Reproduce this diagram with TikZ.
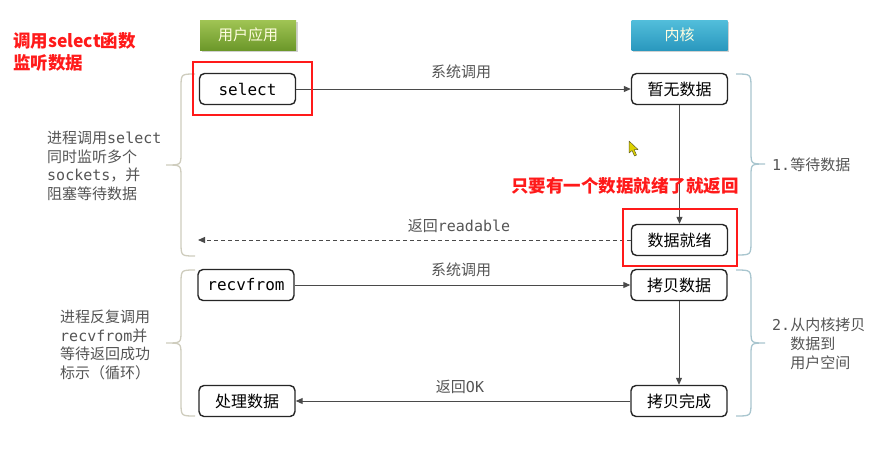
\documentclass[tikz,border=0pt]{standalone}
\usepackage{fontspec}
\setmainfont{Noto Sans CJK SC}
\newfontfamily\mono{DejaVu Sans Mono}
\usetikzlibrary{arrows.meta}

\definecolor{labelgray}{HTML}{555555}
\definecolor{linegray}{HTML}{4A4A4A}
\definecolor{appTop}{HTML}{A0C454}
\definecolor{appBot}{HTML}{6C982A}
\definecolor{kerTop}{HTML}{52BEDB}
\definecolor{kerBot}{HTML}{2A98BE}
\definecolor{braceL}{HTML}{CFCDBE}
\definecolor{braceR}{HTML}{A9C6CF}
\definecolor{markred}{HTML}{FF1A1A}

\tikzset{
  box/.style={draw=black!85, line width=1.4pt, rounded corners=5pt,
    minimum width=96pt, minimum height=31pt, inner sep=0pt, fill=white,
    font=\fontsize{16}{16}\selectfont},
  header/.style={minimum width=96pt, minimum height=30pt, inner sep=0pt,
    text=white!88!yellow, font=\fontsize{15}{15}\selectfont},
  flow/.style={draw=linegray, line width=1pt, -{Triangle[length=7pt,width=6pt]}},
  lbl/.style={text=labelgray, font=\fontsize{15}{15}\selectfont},
  note/.style={text=labelgray, font=\fontsize{15}{18.7}\selectfont, align=left, inner sep=0pt},
  redframe/.style={draw=markred, line width=2pt},
  redtext/.style={text=markred, font=\fontsize{17.5}{22}\selectfont\bfseries, align=left, inner sep=0pt},
  bracel/.style={draw=braceL, line width=1.3pt},
  bracer/.style={draw=braceR, line width=1.3pt},
}

\begin{document}
\begin{tikzpicture}[x=1pt,y=-1pt]
\useasboundingbox[fill=white] (0,0) rectangle (894,448);

% column headers
\fill[black, opacity=0.18] (202,22) rectangle (298,52);
\fill[black, opacity=0.18] (633,22) rectangle (729,52);
\node[header, top color=appTop, bottom color=appBot] (app) at (248,35) {用户应用};
\node[header, top color=kerTop, bottom color=kerBot] (kernel) at (679.5,35) {内核};

% process steps
\node[box] (sel)    at (247.5,89)  {\mono select};
\node[box] (nodata) at (679.5,89)  {暂无数据};
\node[box] (ready)  at (679.5,240) {数据就绪};
\node[box] (recv)   at (246,285)   {\mono recvfrom};
\node[box] (copy)   at (679,285)   {拷贝数据};
\node[box] (done)   at (679,401)   {拷贝完成};
\node[box] (proc)   at (247,401)   {处理数据};

% calls and returns
\draw[flow] (sel) -- (nodata);
\node[lbl] (call1) at (461,72) {系统调用};
\draw[flow] (nodata) -- (ready);
\coordinate (rdend) at (198,240);
\draw[flow, dash pattern=on 4pt off 3pt] (ready) -- (rdend);
\node[lbl] (ret1) at (459,226) {返回{\mono readable}};

\draw[flow] (recv) -- (copy);
\node[lbl] (call2) at (461,270) {系统调用};
\draw[flow] (copy) -- (done);
\draw[flow] (done) -- (proc);
\node[lbl] (ret2) at (460,387) {返回{\mono OK}};

% left braces
\draw[bracel] (195,74) .. controls (181,74) .. (181,88) -- (181,153)
  .. controls (181,165) .. (166,165) .. controls (181,165) .. (181,177)
  -- (181,242) .. controls (181,256) .. (195,256);
\draw[bracel] (195,270) .. controls (181,270) .. (181,284) -- (181,331)
  .. controls (181,343) .. (166,343) .. controls (181,343) .. (181,355)
  -- (181,402) .. controls (181,416) .. (195,416);

% right braces
\draw[bracer] (736,74) .. controls (751,74) .. (751,88) -- (751,152)
  .. controls (751,164) .. (765,164) .. controls (751,164) .. (751,176)
  -- (751,241) .. controls (751,255) .. (736,255);
\draw[bracer] (736,270) .. controls (751,270) .. (751,284) -- (751,331)
  .. controls (751,343) .. (765,343) .. controls (751,343) .. (751,355)
  -- (751,402) .. controls (751,416) .. (736,416);

% side notes
\node[note, anchor=west] (waitnote) at (47,166)
  {进程调用{\mono select}\\同时监听多个\\{\mono sockets}，并\\阻塞等待数据};
\node[note, anchor=west] (loopnote) at (60,345)
  {进程反复调用\\{\mono recvfrom}并\\等待返回成功\\标示（循环）};
\node[note, anchor=west] (phase1) at (772,165) {{\mono 1.}等待数据};
\node[note, anchor=west] (phase2) at (772,344)
  {{\mono 2.}从内核拷贝\\\phantom{\mono 2.}数据到\\\phantom{\mono 2.}用户空间};

% highlights
\draw[redframe] (193,62) rectangle (312,115);
\draw[redframe] (623,209) rectangle (737,266);
\node[redtext, anchor=west] (hint1) at (13,52) {调用select函数\\监听数据};
\node[redtext, anchor=east] (hint2) at (739,186) {只要有一个数据就绪了就返回};

% mouse pointer
\draw[fill=yellow!70!olive, draw=olive!60!black, line width=0.5pt, line join=round]
  (629,141) -- (629,153) -- (632,150.5) -- (634.5,156) -- (636.5,155) -- (634,149.5) -- (638,149.5) -- cycle;
\end{tikzpicture}
\end{document}
